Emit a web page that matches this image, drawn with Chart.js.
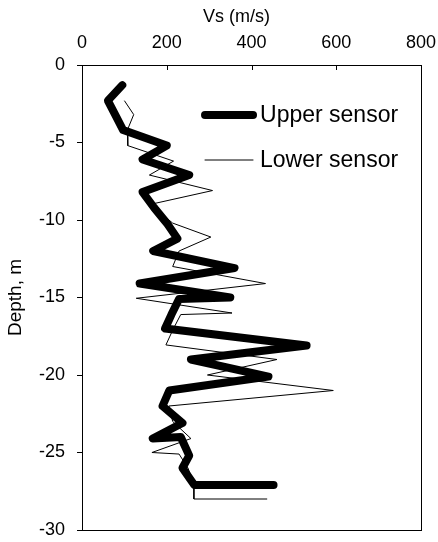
<!DOCTYPE html>
<html>
<head>
<meta charset="utf-8">
<script src="https://cdn.jsdelivr.net/npm/chart.js@4/dist/chart.umd.min.js"></script>
<style>
  html, body { margin: 0; padding: 0; background: #fff; }
  #wrap { width: 438px; height: 542px; }
</style>
</head>
<body>
<div id="wrap"><canvas id="myChart" width="438" height="542"></canvas></div>
<script>
// values
var upperDepth = [-1.3, -2.3, -3.3, -4.2, -5.2, -6.1, -7.1, -8.2, -9.2, -10.2, -11.2, -12.0, -13.1, -14.1, -15.0, -15.1, -16.1, -17.0, -18.1, -19.0, -20.1, -21.0, -22.0, -23.1, -24.1, -24.0, -25.2, -26.0, -27.1, -27.1];
var upperVs    = [95, 61, 80, 97, 200, 143, 253, 143, 170, 200, 225, 168, 360, 136, 350, 229, 211, 196, 530, 257, 440, 206, 190, 237, 167, 233, 253, 237, 265, 452];

var lowerDepth = [-2.3, -3.2, -4.2, -5.2, -6.2, -7.1, -8.1, -9.0, -10.2, -11.1, -12.0, -13.0, -14.1, -15.05, -16.0, -16.1, -17.05, -18.06, -19.0, -20.0, -21.0, -22.0, -23.0, -24.1, -25.0, -25.1, -26.0, -27.0, -28.0, -28.0];
var lowerVs    = [100, 122, 107, 108, 216, 159, 308, 160, 214, 304, 229, 214, 433, 128, 354, 233, 215, 198, 460, 296, 593, 205, 214, 257, 165, 229, 250, 264, 264, 437];

var xTicks = [0, 200, 400, 600, 800];
var yTicks = [0, -5, -10, -15, -20, -25, -30];

function toPoints(vs, depth) {
  return vs.map((v, i) => ({ x: v, y: depth[i] }));
}

Chart.defaults.font.family = "'Liberation Sans', Arial, sans-serif";
Chart.defaults.color = '#000';

// box round the plot + inward x ticks
const frame = {
  id: 'frame',
  afterDraw(chart) {
    const { ctx, chartArea: a, scales } = chart;
    ctx.save();
    ctx.strokeStyle = '#000';
    ctx.lineWidth = 1;
    ctx.strokeRect(Math.round(a.left) + 0.5, Math.round(a.top) + 0.5,
      Math.round(a.right - a.left), Math.round(a.bottom - a.top));
    ctx.beginPath();
    xTicks.forEach(t => {
      const px = Math.round(scales.x.getPixelForValue(t)) + 0.5;
      ctx.moveTo(px, a.top);
      ctx.lineTo(px, a.top + 5);
    });
    ctx.stroke();
    ctx.restore();
  }
};

// legend inside the plot
const boxLegend = {
  id: 'boxLegend',
  afterDraw(chart) {
    const { ctx, chartArea: a } = chart;
    ctx.save();
    ctx.font = "23px 'Liberation Sans', Arial, sans-serif";
    ctx.textBaseline = 'middle';
    ctx.fillStyle = '#000';
    chart.data.datasets.forEach((ds, i) => {
      const y = a.top + 50 + i * 45;
      const x0 = a.left + 123;
      ctx.beginPath();
      ctx.lineWidth = ds.borderWidth;
      ctx.lineCap = 'round';
      ctx.strokeStyle = ds.borderColor;
      ctx.moveTo(x0, y);
      ctx.lineTo(x0 + 48, y);
      ctx.stroke();
      ctx.fillText(ds.label, x0 + 55, y + 1);
    });
    ctx.restore();
  }
};

const ctx = document.getElementById('myChart');

const chart = new Chart(ctx, {
  type: 'scatter',
  data: {
    datasets: [
      {
        label: 'Upper sensor',
        data: toPoints(upperVs, upperDepth),
        showLine: true,
        borderColor: '#000',
        borderWidth: 8,
        borderCapStyle: 'round',
        borderJoinStyle: 'round',
        pointRadius: 0,
        tension: 0
      },
      {
        label: 'Lower sensor',
        data: toPoints(lowerVs, lowerDepth),
        showLine: true,
        borderColor: '#000',
        borderWidth: 1,
        pointRadius: 0,
        tension: 0
      }
    ]
  },
  options: {
    responsive: false,
    animation: false,
    layout: { padding: { left: 3, right: 0, top: 0, bottom: 0 } },
    plugins: {
      legend: { display: false },
      tooltip: { enabled: false }
    },
    scales: {
      x: {
        type: 'linear',
        position: 'top',
        min: 0,
        max: 800,
        afterBuildTicks: s => { s.ticks = xTicks.map(v => ({ value: v })); },
        afterFit: s => { s.paddingRight = 17; },
        grid: { display: false },
        border: { display: false },
        ticks: { font: { size: 18, lineHeight: 1 }, padding: 5, maxRotation: 0 },
        // title sits a little left of centre in the original
        title: { display: true, text: 'Vs (m/s)\u00a0\u00a0\u00a0\u00a0\u00a0\u00a0', font: { size: 18, lineHeight: 1 }, padding: { top: 8, bottom: 3 } }
      },
      y: {
        type: 'linear',
        min: -30,
        max: 0,
        afterBuildTicks: s => { s.ticks = yTicks.map(v => ({ value: v })); },
        afterFit: s => { s.paddingBottom = 12; },
        grid: { drawOnChartArea: false, tickLength: 5, color: '#000' },
        border: { display: false },
        ticks: { font: { size: 18 }, padding: 12 },
        title: { display: true, text: 'Depth, m', font: { size: 19, lineHeight: 1 }, padding: { top: 3, bottom: 2 } }
      }
    }
  },
  plugins: [frame, boxLegend]
});
</script>
</body>
</html>
